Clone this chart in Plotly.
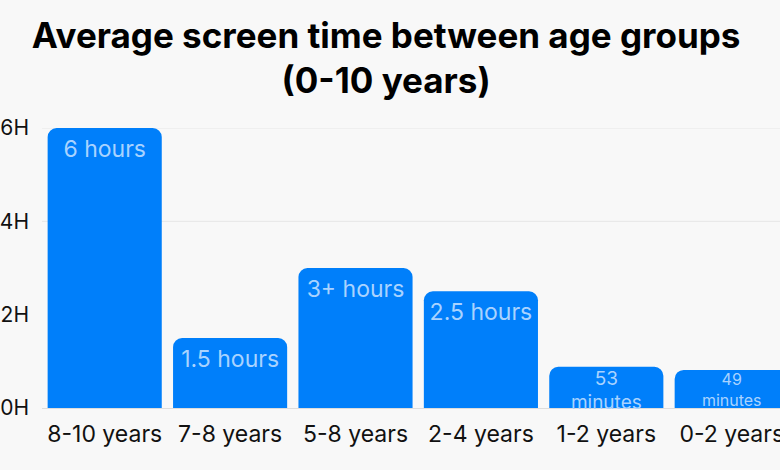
import plotly.graph_objects as go

# Data
age_groups = ["8-10 years", "7-8 years", "5-8 years", "2-4 years", "1-2 years", "0-2 years"]
screen_hours = [6, 1.5, 3, 2.5, 53 / 60, 49 / 60]
bar_labels = ["6 hours", "1.5 hours", "3+ hours", "2.5 hours", "53<br>minutes", "49<br>minutes"]
label_sizes = [23, 23, 23, 23, 19, 16]

y_ticks = [0, 2, 4, 6]
y_tick_labels = ["0H", "2H", "4H", "6H"]
grid_levels = [4, 6]

bg = "#f8f8f8"
bar_colour = "#007ffa"
label_colour = "#a9d3ff"

fig = go.Figure()

fig.add_trace(go.Bar(
    x=age_groups,
    y=screen_hours,
    marker=dict(color=bar_colour, cornerradius=9, line=dict(width=0)),
    hoverinfo="skip",
))

# labels hang just under the top of each bar, kept at full size;
# an invisible marker pads them down from the bar top
fig.add_trace(go.Scatter(
    x=age_groups,
    y=screen_hours,
    mode="markers+text",
    marker=dict(size=[17, 17, 17, 17, 4, 3], opacity=0),
    text=bar_labels,
    textposition="bottom center",
    textfont=dict(size=label_sizes, color=label_colour, family="Inter"),
    hoverinfo="skip",
    cliponaxis=False,
))

# only the upper gridlines show in the original
for g in grid_levels:
    fig.add_shape(type="line", xref="paper", x0=0, x1=1, yref="y", y0=g, y1=g,
                  line=dict(color="#e6e6e6", width=1), layer="below")

fig.update_layout(
    width=780,
    height=470,
    paper_bgcolor=bg,
    plot_bgcolor=bg,
    font=dict(family="Inter", color="#111111", size=22),
    title=dict(
        text="<b>Average screen time between age groups<br>(0-10 years)</b>",
        x=0.495,
        xanchor="center",
        y=0.898,
        yanchor="top",
        font=dict(size=35, color="#000000"),
    ),
    margin=dict(l=41.5, r=0, t=128, b=62),
    bargap=0.09,
    showlegend=False,
)

fig.update_xaxes(
    range=[-0.5, 5.385],
    showgrid=False,
    showline=False,
    zeroline=False,
    ticks="",
    ticklabelstandoff=10,
    tickfont=dict(size=23),
    automargin=False,
)

fig.update_yaxes(
    range=[0, 6],
    tickvals=y_ticks,
    ticktext=y_tick_labels,
    showgrid=False,
    zeroline=True,
    zerolinecolor="#dddddd",
    zerolinewidth=1,
    ticklabelstandoff=12,
    tickfont=dict(size=21),
    automargin=False,
)

# page margin off so the figure sits at the window corner like the original
fig.write_html(
    "out.html",
    config={"displayModeBar": False},
    post_script="document.body.style.margin='0';document.body.style.background='#f8f8f8';",
)
